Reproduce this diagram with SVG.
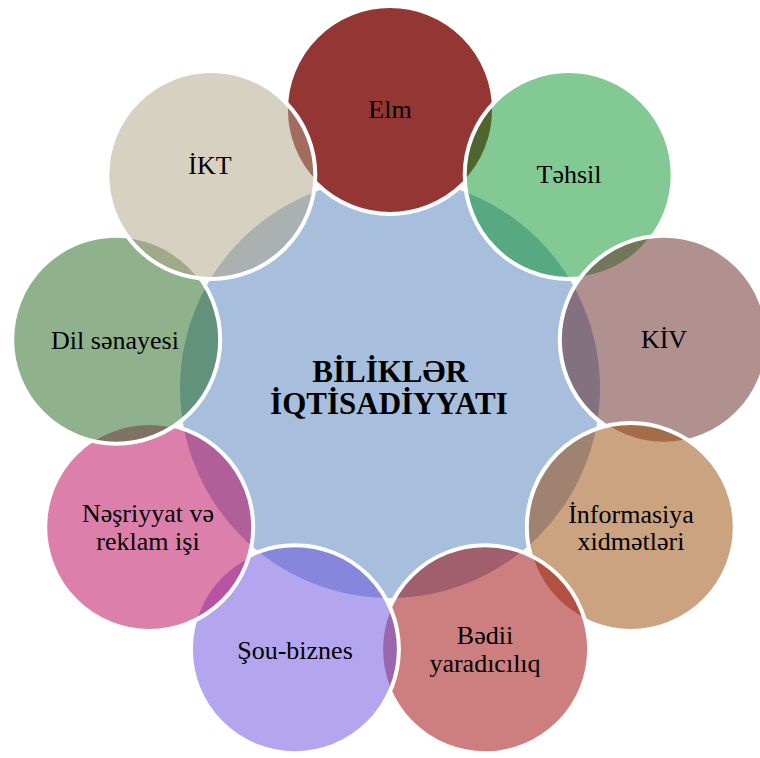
<svg xmlns="http://www.w3.org/2000/svg" width="760" height="758" viewBox="0 0 760 758">
  <style>
    .outer { stroke: #ffffff; stroke-width: 4; fill-opacity: 0.5; }
    .lbl { font-family: "Liberation Serif", "Times New Roman", serif; font-size: 26px; fill: #000000; text-anchor: middle; }
    .ctr { font-family: "Liberation Serif", "Times New Roman", serif; font-size: 31px; font-weight: bold; fill: #000000; text-anchor: middle; }
  </style>
  <rect width="760" height="758" fill="#ffffff"/>
  <g id="center">
    <circle cx="390" cy="388" r="210" fill="#a7bfdd"/>
    <text class="ctr" x="390" y="382">BİLİKLƏR</text>
    <text class="ctr" x="389" y="414">İQTİSADİYYATI</text>
  </g>
  <g id="connectors"></g>
  <g id="elm">
    <circle cx="390" cy="110" r="104" fill="#943634" stroke="#ffffff" stroke-width="4"/>
    <text class="lbl" x="390" y="118">Elm</text>
  </g>
  <g id="tehsil">
    <circle class="outer" cx="568.7" cy="175" r="104" fill="rgb(7,147,39)"/>
    <text class="lbl" x="569" y="183">Təhsil</text>
  </g>
  <g id="kiv">
    <circle class="outer" cx="663.8" cy="339.7" r="104" fill="rgb(97,35,33)"/>
    <text class="lbl" x="664" y="348">KİV</text>
  </g>
  <g id="informasiya">
    <circle class="outer" cx="630.8" cy="527" r="104" fill="rgb(151,71,3)"/>
    <text class="lbl" x="631" y="523">İnformasiya</text>
    <text class="lbl" x="631" y="550">xidmətləri</text>
  </g>
  <g id="bedii">
    <circle class="outer" cx="485.1" cy="649.2" r="104" fill="rgb(155,0,0)"/>
    <text class="lbl" x="485" y="644">Bədii</text>
    <text class="lbl" x="485" y="672">yaradıcılıq</text>
  </g>
  <g id="sou">
    <circle class="outer" cx="294.9" cy="649.2" r="104" fill="rgb(103,77,221)"/>
    <text class="lbl" x="295" y="659">Şou-biznes</text>
  </g>
  <g id="nesriyyat">
    <circle class="outer" cx="149.2" cy="527" r="104" fill="rgb(185,0,85)"/>
    <text class="lbl" x="148" y="522">Nəşriyyat və</text>
    <text class="lbl" x="148" y="550">reklam işi</text>
  </g>
  <g id="dil">
    <circle class="outer" cx="116.2" cy="339.7" r="104" fill="rgb(31,101,27)"/>
    <text class="lbl" x="115" y="349">Dil sənayesi</text>
  </g>
  <g id="ikt">
    <circle class="outer" cx="211.3" cy="175" r="104" fill="rgb(175,163,131)"/>
    <text class="lbl" x="210" y="174">İKT</text>
  </g>
</svg>
